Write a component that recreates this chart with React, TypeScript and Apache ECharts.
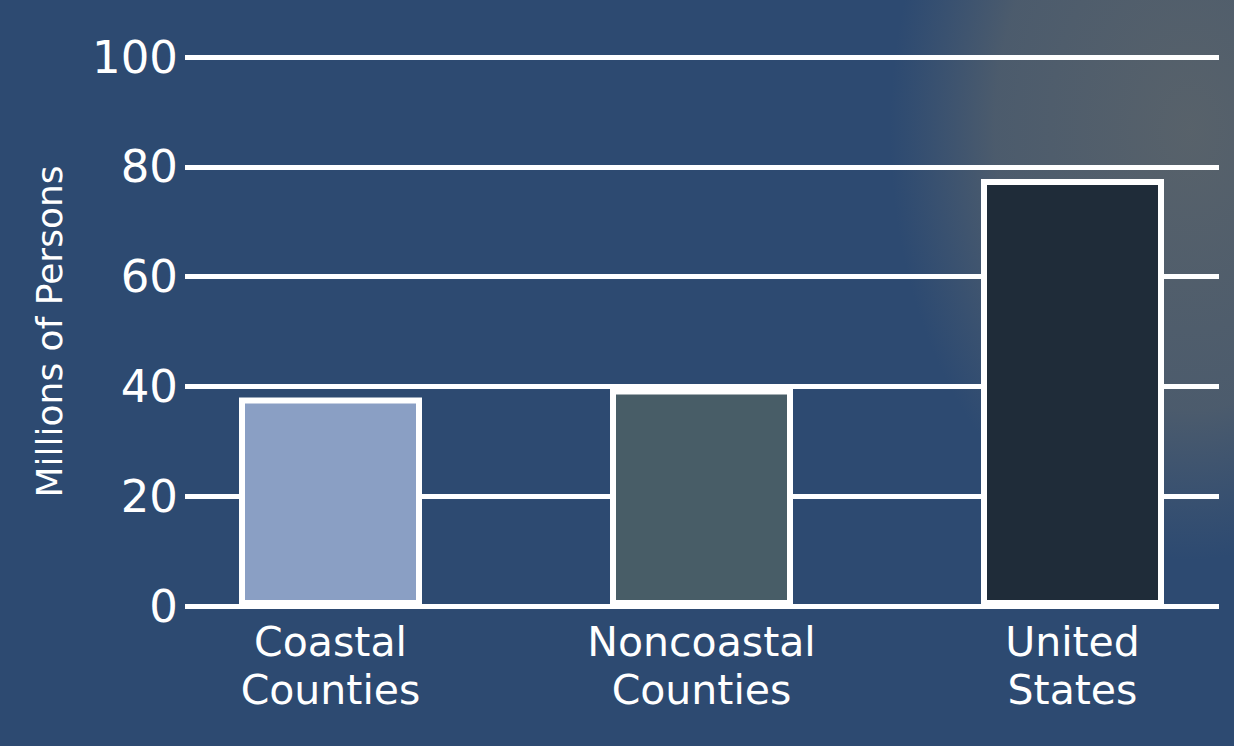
import React, { useEffect, useRef } from "react";
import * as echarts from "echarts";

const categories = ["Coastal Counties", "Noncoastal Counties", "United States"];
const values = [38, 39.6, 77.8];
const barColors = ["#8a9fc4", "#485d67", "#1f2c39"];
const yTicks = { min: 0, max: 100, interval: 20 };
const yName = "Millions of Persons";

const FONT = "DejaVu Sans";
const W = 1300;

export default function App() {
  const ref = useRef<HTMLDivElement>(null);
  useEffect(() => {
    document.body.style.margin = "0";
    document.body.style.overflow = "hidden";
    const chart = echarts.init(ref.current!, undefined, { renderer: "svg" });
    const gridTop = 57;
    const gridBottom = 746 - 606;
    chart.setOption({
      animation: false,
      backgroundColor: "#2d4a71",
      graphic: [
        {
          type: "ellipse",
          z: -100,
          silent: true,
          shape: { cx: 1190, cy: 130, rx: 300, ry: 430 },
          style: {
            fill: {
              type: "radial",
              x: 0.5,
              y: 0.5,
              r: 0.5,
              colorStops: [
                { offset: 0, color: "rgba(90,99,106,0.95)" },
                { offset: 0.65, color: "rgba(86,97,107,0.75)" },
                { offset: 1, color: "rgba(80,95,112,0)" },
              ],
            },
          },
        },
      ],
      grid: [
        { left: 185, right: W - 1219, top: gridTop, bottom: gridBottom },
        { left: 145, right: W - 1258, top: gridTop, bottom: gridBottom },
      ],
      xAxis: [
        {
          type: "category",
          gridIndex: 0,
          data: categories,
          show: false,
        },
        {
          type: "category",
          gridIndex: 1,
          data: categories,
          axisLine: { show: false },
          axisTick: { show: false },
          axisLabel: {
            color: "#ffffff",
            fontFamily: FONT,
            fontSize: 41,
            lineHeight: 48,
            margin: 12,
            formatter: (v: string) => v.replace(" ", "\n"),
          },
        },
      ],
      yAxis: [
        {
          type: "value",
          gridIndex: 0,
          min: yTicks.min,
          max: yTicks.max,
          interval: yTicks.interval,
          name: yName,
          nameLocation: "middle",
          nameRotate: 90,
          nameGap: 118,
          nameTextStyle: { color: "#ffffff", fontFamily: FONT, fontSize: 36 },
          axisLine: { show: false },
          axisTick: { show: false },
          axisLabel: {
            color: "#ffffff",
            fontFamily: FONT,
            fontSize: 45,
            margin: 7,
          },
          splitLine: { show: true, lineStyle: { color: "#ffffff", width: 5 } },
        },
        {
          type: "value",
          gridIndex: 1,
          min: yTicks.min,
          max: yTicks.max,
          interval: yTicks.interval,
          show: false,
          splitLine: { show: false },
        },
      ],
      series: [
        {
          type: "bar",
          xAxisIndex: 1,
          yAxisIndex: 1,
          barWidth: 183,
          z: 5,
          data: values.map((v, i) => ({
            value: v,
            itemStyle: {
              color: barColors[i],
              borderColor: "#ffffff",
              borderWidth: 6,
            },
          })),
        },
      ],
    });
    return () => chart.dispose();
  }, []);
  return <div ref={ref} style={{ width: W, height: 746 }} />;
}
